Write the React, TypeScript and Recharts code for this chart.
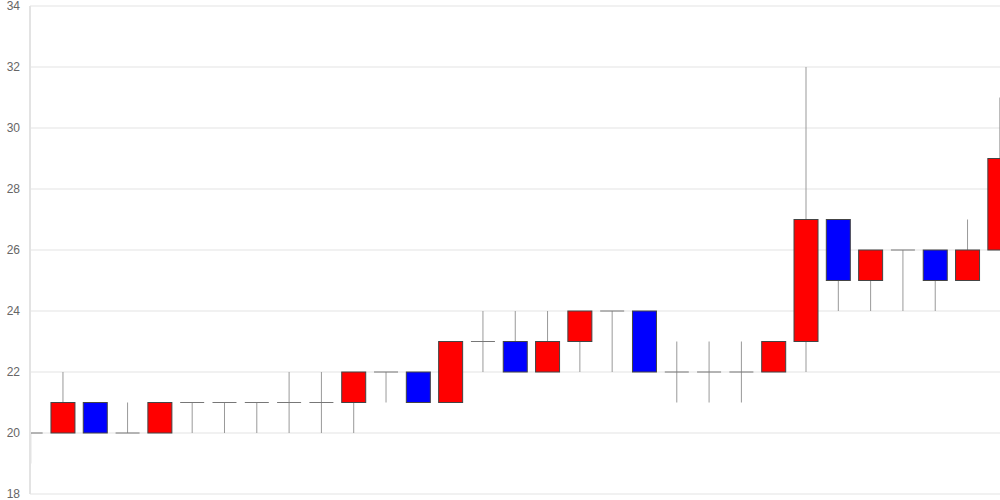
import { ComposedChart, Bar, XAxis, YAxis, CartesianGrid } from 'recharts'

// one candle per session: open, high, low, close
const opens = [20, 20, 21, 20, 20, 21, 21, 21, 21, 21, 21, 22, 22, 21, 23, 23, 22, 23, 24, 24, 22, 22, 22, 22, 23, 27, 25, 26, 26, 25, 26]
const highs = [20, 22, 21, 21, 21, 21, 21, 21, 22, 22, 22, 22, 22, 23, 24, 24, 24, 24, 24, 24, 23, 23, 23, 23, 32, 27, 26, 26, 26, 27, 31]
const lows = [19, 20, 20, 20, 20, 20, 20, 20, 20, 20, 20, 21, 21, 21, 22, 22, 22, 22, 22, 22, 21, 21, 21, 22, 22, 24, 24, 24, 24, 25, 26]
const closes = [20, 21, 20, 20, 21, 21, 21, 21, 21, 21, 22, 22, 21, 23, 23, 22, 23, 24, 24, 22, 22, 22, 22, 23, 27, 25, 26, 26, 25, 26, 29]

const yTicks = [18, 20, 22, 24, 26, 28, 30, 32, 34]

const data = opens.map((o, i) => ({
  idx: i,
  open: o,
  high: highs[i],
  low: lows[i],
  close: closes[i],
}))

const UP = '#ff0000'
const DOWN = '#0000ff'
const BODY_W = 24

function Candle(props: any) {
  const { x, y, width, height, payload } = props
  const { open, close, high, low } = payload
  const cx = x + width / 2
  const span = high - low
  const toY = (v: number) => (span === 0 ? y : y + ((high - v) / span) * height)
  const yHigh = toY(high)
  const yLow = toY(low)
  const top = toY(Math.max(open, close))
  const bottom = toY(Math.min(open, close))
  const left = cx - BODY_W / 2
  return (
    <g>
      <line x1={cx} x2={cx} y1={yHigh} y2={yLow} stroke="#999" strokeWidth={1} />
      {open === close ? (
        <line x1={left} x2={left + BODY_W} y1={top} y2={top} stroke="#777" strokeWidth={1} />
      ) : (
        <rect
          x={left}
          y={top}
          width={BODY_W}
          height={bottom - top}
          fill={close > open ? UP : DOWN}
          stroke="#444"
          strokeWidth={1}
        />
      )}
    </g>
  )
}

export default function App() {
  return (
    <div style={{ position: 'fixed', left: 0, top: 0, background: '#fff' }}>
      <ComposedChart width={1000} height={500} data={data} margin={{ top: 6, right: 0, bottom: 6, left: 0 }}>
        <CartesianGrid vertical={false} stroke="#e3e3e3" />
        <XAxis dataKey="idx" type="number" domain={[-0.025, 30]} hide allowDataOverflow />
        <YAxis
          domain={[18, 34]}
          ticks={yTicks}
          width={30}
          interval={0}
          tickLine={false}
          tickSize={0}
          tickMargin={10}
          axisLine={{ stroke: '#e3e3e3', strokeWidth: 2 }}
          tick={{ fill: '#666', fontSize: 12, fontFamily: 'Liberation Sans, Arial, sans-serif' }}
        />
        <Bar
          dataKey={(d: any) => [d.low, d.high]}
          barSize={BODY_W}
          shape={<Candle />}
          isAnimationActive={false}
        />
      </ComposedChart>
    </div>
  )
}
